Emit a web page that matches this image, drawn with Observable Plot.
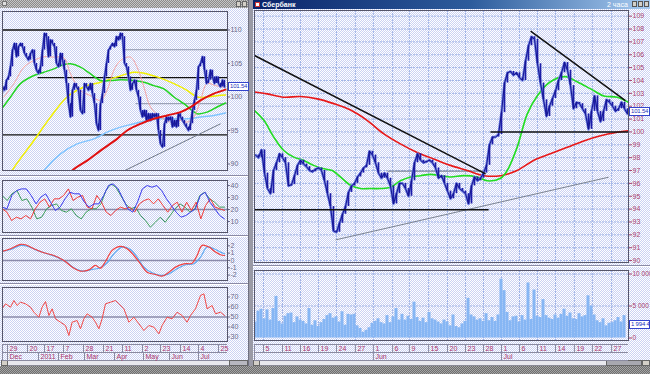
<!DOCTYPE html>
<html><head><meta charset="utf-8">
<script src="https://cdn.jsdelivr.net/npm/d3@7"></script>
<script src="https://cdn.jsdelivr.net/npm/@observablehq/plot@0.6"></script>
<style>
html,body{margin:0;padding:0;background:#888;}
#root{position:relative;width:650px;height:374px;overflow:hidden;font-family:"Liberation Sans",Arial,sans-serif;
background:repeating-conic-gradient(#6e6e6e 0 25%,#a4a4a4 0 50%) 0 0/2px 2px;}
.d{position:absolute;box-sizing:border-box;}
.dith{background:repeating-conic-gradient(#ffffff 0 25%,#cbd2f3 0 50%) 0 0/2px 2px;}
.lbl{position:absolute;box-sizing:border-box;background:#fff;border:1px solid #3344cc;color:#2233bb;font-size:6px;letter-spacing:-0.2px;line-height:7px;padding-left:1px;overflow:hidden;white-space:nowrap;}
</style></head><body><div id="root"></div>
<script>
// ================= DATA =================
// Left window (daily), bar index i
const leftClose = [100.5,101.5,101,102.5,103,104.5,107,108,106,107.5,
 108,107.5,106.5,106,105.5,106.5,107,105,104,103.5,
 104.5,107,109.5,109,106,108.5,108,107.5,105,104.5,
 106.5,105.5,104,102,99,97,101,102,101.5,101,
 98,97.5,102,101.5,101,102,100.5,99,96,95,
 99,100.5,103,105,107,107.5,108,107.5,109,108.5,
 109.5,109,105,104.5,103,101,102,102.5,101,100,
 98,97,98,96.5,97.5,96.5,97.5,97,97.5,95,
 93,92.5,96,97,96.5,97,95.5,96.5,95.5,97.5,
 97,96.5,96,95.5,95,96,98,99.5,101,104.5,
 105,106,104,102,102.5,104,103,102,103,102,
 101.5,102.5,101.5];
const leftPink = [[1.7,100.0],[6.7,102.0],[11.7,104.45],[16.7,105.45],[21.7,106.0],[26.7,105.95],[31.7,105.85],[35,103.46],[40,100.97],[45,100.2],[50,99.5],[53.3,101],[56.7,104],[60,105.45],[65,105.95],[68.3,104.45],[71.7,101.5],[75,98.5],[80,97],[85,96.25],[90,96.5],[93.3,96.25],[96.7,97],[100,99.5],[103.3,102],[107.5,101.7],[112.5,101.4]];
const leftGreen = [[0,98],[5,100],[10,102],[16.7,103.2],[21.7,103.7],[26.7,104.2],[31.7,104.85],[35,104.95],[40,104.45],[45,103.46],[50,102.46],[55,102.46],[60,102.56],[66.7,102.46],[71.7,102.2],[76.7,101.7],[81.7,101.2],[86.7,100],[91.7,99],[95.8,98],[98.3,97.5],[103.3,97.74],[108.3,98.5],[112.5,99.1]];
const leftYellow = [[4.5,88],[5.8,89],[16.7,93.5],[25,97],[33.3,100],[41.7,101.5],[50,102.2],[58.3,103],[66.7,103.7],[71.7,103.56],[78.3,103],[86.7,102],[93.3,101],[98.3,100],[103.3,100],[108.3,100.2],[112.5,100.3]];
const leftRed = [[34,88],[35.8,89],[43.3,90.5],[50,92],[58.3,93.75],[63.3,95],[70,96],[76.7,96.75],[83.3,97.25],[90,97.75],[95,98.5],[100,99.5],[106.7,100.5],[112.5,101.1]];
const leftBlue = [[19.5,88],[21.7,89],[30,91.5],[38.3,93],[46.7,93.75],[53.3,94.75],[60,95.5],[66.7,96],[73.3,96.5],[80,96.75],[86.7,96.75],[93.3,96.75],[100,97],[106.7,97.25],[112.5,97.6]];
const leftLevels = [{x1:1,x2:113.5,y:110},{x1:18.5,x2:113.5,y:102.9},{x1:1,x2:113.5,y:94.35}];
const leftThinLevels = [{x1:61,x2:113.5,y:107.05},{x1:67.5,x2:113.5,y:99.0}];
const leftTrend = [{x1:62,y1:89.0,x2:110,y2:96.0}];
const leftPriceTicks = [90,95,100,105,110];
const lastPrice = 101.54;

const osc1Blue = [22,20.6,31.7,35.8,37.2,37.2,31.7,24.7,30.3,33.1,26.1,19.2,22,28.9,34.4,33.1,33.1,26.1,22,24.7,24.7,31.7,40,41.4,37.2,28.9,20.6,17.8,26.1,37.2,40,38.6,40,35.8,28.9,23.3,17.8,13.6,15,17.8,20.6,31.7,34.4,26.1,20.6,15,12.2];
const osc1Red = [20.6,17.8,10.8,13.6,12.2,15,12.2,20.6,26.1,28.9,22,28.9,28.9,31.7,37.2,27.5,30.3,31.7,22,20.6,31.7,26.1,17.8,15,19.2,22,20.6,22,17.8,24.7,27.5,28.9,24.7,28.9,23.3,17.8,23.3,26.1,17.8,26.1,19.2,26.1,12.2,23.3,28.9,22,20.6,19.2];
const osc1Green = [31.7,27.5,33.1,35.8,27.5,28.9,22,12.2,13.6,20.6,23.3,24.7,19.2,17.8,20.6,15,12.2,17.8,20.6,20.6,24.7,35.8,41.4,38.6,31.7,24.7,20.6,22,15,10.8,5.3,9.4,13.6,9.4,15,20.6,24.7,22,17.8,20.6,31.7,34.4,28.9,26.1,22,22];
const osc1Ticks = [10,20,30,40];
const osc2Red = [[0.8,1.23],[5,1.6],[10,2.2],[12.5,2.15],[16.7,1.6],[21.7,1.05],[26.7,0.68],[31.7,0],[35.8,-0.9],[40,-1.46],[44.2,-1.28],[47.5,-0.68],[50,-1.05],[52.5,-0.14],[55.8,1.37],[60,1.92],[63.3,1.6],[66.7,0.68],[70,-0.46],[73.3,-1.6],[77.5,-1.92],[80.8,-2.15],[84.2,-1.6],[87.5,-0.91],[91.7,-0.46],[95.8,-0.37],[98.3,0.68],[100.8,2.06],[104.2,1.83],[107.5,1.14],[110,0.78],[112,0.68]];
const osc2Blue = [[0.8,1.23],[5,1.5],[10,2.06],[13.3,1.96],[18.3,1.37],[23.3,0.91],[28.3,0.46],[33.3,-0.32],[37.5,-1.14],[41.7,-1.46],[45.8,-1.23],[50,-1.0],[53.3,-0.32],[56.7,0.91],[60.8,1.83],[65,1.5],[68.3,0.46],[71.7,-0.91],[75.8,-1.69],[80,-2.05],[84.2,-1.83],[88.3,-1.14],[92.5,-0.59],[96.7,-0.46],[100,0.46],[103.3,1.83],[106.7,1.6],[110,1.14],[112,0.91]];
const osc2Ticks = [-2,-1,0,1,2];
const rsiX = [0.8,2.5,5,6.7,8.3,10,12.5,15,16.7,19.2,20.8,22.5,24.2,25.8,27.5,30,32.5,34.2,35.8,38.3,40,41.7,43.3,45.8,47.5,49.2,50.8,52.5,55,57.5,59.2,61.7,64.2,66.7,69.2,71.7,74.2,76.7,79.2,80.8,83.3,85.8,88.3,90.8,93.3,95,97.5,100,101.7,103.3,105.8,107.5,110,112];
const rsiV = [58.2,63.2,59.8,66.5,61.5,64.8,63.2,59.8,54.8,49.8,59.8,65.5,51.5,58.2,48.2,44.8,41.5,31.5,44.8,46.5,38.2,48.2,53.2,49.8,44.8,38.2,48.2,63.2,64.8,66.5,63.2,58.2,44.8,49.8,43.2,36.5,41.5,39.8,33.2,41.5,49.8,48.2,54.8,51.5,44.8,51.5,58.2,71.5,73.2,58.2,61.5,53.2,54.8,51.5];
const rsiTicks = [30,40,50,60,70];
const leftDays = ["29","20","17","7","28","21","11","2","23","14","4","25"];
const leftDayIdx = [3.5,13.5,22,31.5,41.5,51.5,61,71,80,90,99,109];
const leftMonths = ["Dec","2011","Feb","Mar","Apr","May","Jun","Jul"];
const leftMonthIdx = [3.5,19,29,42,57,71.5,84.5,99];

// Right window (2-hour bars), bar index k
const rightClose = [98.2,98.0,98.6,96.8,95.6,95.2,97.0,97.6,98.3,98.0,
 97.6,95.8,95.9,96.6,97.4,97.8,97.5,97.3,97.0,96.9,
 97.1,97.2,97.0,96.2,95.2,94.2,92.3,92.2,92.9,93.6,
 94.2,95.3,95.8,96.0,96.5,96.8,97.2,97.4,98.5,98.2,
 97.6,96.8,96.4,96.8,96.4,95.8,94.4,95.2,96.0,96.0,
 95.6,95.0,96.2,97.6,98.3,97.8,97.6,97.7,97.8,97.6,
 97.2,96.4,96.6,96.0,95.4,94.8,95.2,96.0,95.6,95.4,
 95.2,94.4,95.8,96.5,96.2,96.4,96.8,97.4,99.0,99.6,
 99.6,99.8,101.5,103.8,104.6,104.7,104.4,104.6,104.2,104.0,
 105.5,106.7,107.4,107.2,105.3,103.8,102.5,101.2,102.0,102.6,
 103.2,104.0,104.6,105.4,104.8,103.6,101.8,102.3,102.2,101.8,
 101.4,100.2,101.6,102.8,101.6,100.8,101.6,102.5,102.3,102.0,
 101.6,101.8,102.3,101.8,101.4];
const rightRedMA = [[-0.33,103.1],[3.9,102.96],[9.4,102.7],[15,102.75],[20.6,102.57],[26.1,102.2],[31.7,101.7],[37.2,100.9],[42.8,99.85],[48.3,99.07],[53.9,98.4],[59.4,97.9],[65,97.4],[70.6,97.0],[76.1,96.6],[81.7,96.6],[87.2,97.0],[92.8,97.8],[98.3,98.3],[103.9,98.8],[109.4,99.3],[115,99.7],[120.6,99.97],[124.3,100.1]];
const rightGreenMA = [[-0.33,101.66],[2.8,100.9],[6.1,99.6],[9.4,98.56],[12.8,98.04],[16.1,97.78],[19.4,97.4],[22.8,97.13],[25.6,97.0],[28.3,96.5],[31.7,95.85],[35,95.6],[38.3,95.6],[41.7,95.6],[45,95.7],[48.3,96.2],[51.7,96.5],[55,96.6],[58.3,96.7],[61.7,96.6],[65,96.5],[69.4,96.6],[73.9,96.5],[77.2,96.2],[81.7,96.4],[83.9,97.0],[87.2,98.8],[90.6,101.4],[93.9,102.8],[98.3,103.9],[103.3,104.3],[107.2,103.9],[111.7,103.35],[116.1,102.8],[120.6,102.7],[124.3,102.3]];
const rightTrendBlack = [{x1:-0.33,y1:105.94,x2:76.7,y2:96.74},{x1:91.7,y1:107.83,x2:123.3,y2:102.44}];
const rightLevels = [{x1:-0.33,x2:77.7,y:93.95},{x1:78.3,x2:124.33,y:100.0}];
const rightThin = [{x1:44,x2:76.7,y:96.95}];
const rightTrendGray = [{x1:26.7,y1:91.61,x2:117.7,y2:96.48}];
const rightPriceTicks = [90,91,92,93,94,95,96,97,98,99,100,101,102,103,104,105,106,107,108,109];
const volume = [2.5,4.2,4.5,3.0,4.4,2.8,4.6,6.5,2.6,2.2,
 3.4,3.8,3.9,2.4,3.3,2.8,2.6,2.2,4.6,2.0,
 2.7,1.8,2.4,2.9,3.5,3.8,3.1,3.3,2.5,4.1,
 2.0,3.7,3.6,3.7,1.9,1.5,0.9,1.2,1.6,2.3,
 2.6,3.0,2.4,2.2,3.5,2.4,3.3,4.6,2.8,3.7,
 2.8,3.4,2.9,5.6,3.2,2.6,3.1,2.4,4.0,3.0,
 2.8,2.5,2.2,2.8,2.5,1.9,3.6,1.8,1.6,2.2,
 2.6,6.2,3.6,3.3,2.8,3.0,2.6,3.8,2.7,3.2,
 2.6,3.6,9.2,7.4,4.0,2.7,3.3,3.4,2.5,3.5,
 2.8,8.6,2.9,7.5,3.4,3.2,6.0,3.5,3.1,2.9,
 3.6,3.1,3.7,4.5,3.4,3.9,3.0,2.9,3.8,3.3,
 3.5,6.6,5.0,3.6,2.7,2.4,3.0,1.9,2.3,2.4,
 2.7,3.2,2.5,3.5];
const volTicks = [0,5,10];
const volTickLabels = ["0","5 000 000","10 000 000"];
const lastVolume = "1 994 400";
const rightDays = ["5","11","16","19","24","27","1","6","9","15","20","23","28","1","6","11","14","19","22","27"];
const rightDayIdx = [2.67,9,15,21,27,33.3,39.3,45.7,51.3,57.7,64,70,76,82,88,94,100,106.3,112.3,118.7];
const rightMonths = ["Jun","Jul"];
const rightMonthIdx = [39.3,82];

// ================= DRAW =================
const root = document.getElementById("root");
const FONT = "Liberation Sans, Arial, sans-serif";
function div(cls, css, text){const e=document.createElement("div");e.className="d "+(cls||"");Object.assign(e.style,css);if(text!=null)e.textContent=text;root.appendChild(e);return e;}
function chart(o){
  const {box, color, fs, ...rest} = o;
  const svg = Plot.plot({
    width:650, height:374,
    marginLeft:box[0], marginRight:650-box[2], marginTop:box[1], marginBottom:374-box[3],
    style:{position:"absolute",left:"0px",top:"0px",background:"transparent",overflow:"visible",fontSize:(fs||7)+"px",fontFamily:FONT,color:color||"#666"},
    ...rest
  });
  root.appendChild(svg);
  return svg;
}
const P = d => d[0], V = d => d[1];
const GRID = "#9fb3e6";

// window chrome
div("dith",{left:"0px",top:"0px",width:"249px",height:"366px"});
div("",{left:"248px",top:"0px",width:"5px",height:"366px",background:"#9a9aa6",borderLeft:"1px solid #707080"});
div("dith",{left:"253px",top:"0px",width:"397px",height:"366px"});
div("",{left:"0px",top:"0px",width:"248px",height:"8px",background:"repeating-conic-gradient(#8a8a8a 0 25%,#c6c6c6 0 50%) 0 0/2px 2px"});
div("",{left:"2px",top:"1px",width:"5px",height:"5px",background:"#e0e0e0",border:"1px solid #777"});
div("",{left:"236px",top:"1px",width:"5px",height:"6px",background:"#d4d0c8",border:"1px solid #666"});
div("",{left:"242px",top:"1px",width:"5px",height:"6px",background:"#d4d0c8",border:"1px solid #666"});
div("",{left:"253px",top:"0px",width:"397px",height:"9px",background:"linear-gradient(90deg,#0a246a,#2d5c9c 55%,#a6caf0)"});
div("",{left:"255px",top:"2px",width:"5px",height:"5px",background:"#fff",border:"1px solid #c33"});
div("",{left:"262px",top:"0px",color:"#fff",fontSize:"7px",fontWeight:"bold",lineHeight:"9px",fontFamily:FONT},"Сбербанк");
div("",{left:"607px",top:"0px",color:"#fff",fontSize:"7px",lineHeight:"9px",fontFamily:FONT},"2 часа");
for (const x of [632,638,644]) div("",{left:x+"px",top:"1px",width:"5px",height:"6px",background:"#d4d0c8",border:"1px solid #555"});
// panel separators
for (const y of [175,235,283]) div("",{left:"0px",top:y+"px",width:"248px",height:"2px",borderTop:"1px solid #8a8aa6",borderBottom:"1px solid #fff"});
div("",{left:"253px",top:"265px",width:"397px",height:"2px",borderTop:"1px solid #8a8aa6",borderBottom:"1px solid #fff"});
// scrollbars
div("",{left:"1px",top:"360px",width:"247px",height:"6px",background:"#e8e8ee",border:"1px solid #8a8a96"});
div("",{left:"1px",top:"360px",width:"7px",height:"6px",background:"#d4d0c8",border:"1px solid #666"});
div("",{left:"229px",top:"360px",width:"19px",height:"6px",background:"#b8b8c0",border:"1px solid #666"});
div("",{left:"253px",top:"360px",width:"397px",height:"6px",background:"#e8e8ee",border:"1px solid #8a8a96"});
div("",{left:"253px",top:"360px",width:"7px",height:"6px",background:"#d4d0c8",border:"1px solid #666"});
div("",{left:"606px",top:"360px",width:"36px",height:"6px",background:"#a8a8b0",border:"1px solid #666"});
div("",{left:"642px",top:"360px",width:"8px",height:"6px",background:"#d4d0c8",border:"1px solid #666"});

// ---------- LEFT MAIN ----------
const lk = leftClose.map((v,i)=>({i, v, p: i ? leftClose[i-1] : v}));
const svgL = chart({box:[2,11,227,170], color:"#6c6c8c",
  x:{domain:[1,113.5], axis:null},
  y:{domain:[89.03,112.76], axis:"right", ticks:leftPriceTicks, tickSize:2, tickPadding:1, tickFormat:d=>String(d), label:null},
  marks:[
    Plot.link(leftLevels,{x1:"x1",x2:"x2",y1:"y",y2:"y",stroke:"#111",strokeWidth:1.3,clip:true}),
    Plot.link(leftThinLevels,{x1:"x1",x2:"x2",y1:"y",y2:"y",stroke:"#8a92a8",strokeWidth:1,clip:true}),
    Plot.link(leftTrend,{x1:"x1",y1:"y1",x2:"x2",y2:"y2",stroke:"#707888",strokeWidth:1,clip:true}),
    Plot.line(leftBlue,{x:P,y:V,stroke:"#80c4ff",strokeWidth:1.5,curve:"catmull-rom",clip:true}),
    Plot.line(leftYellow,{x:P,y:V,stroke:"#f2f000",strokeWidth:1.5,curve:"catmull-rom",clip:true}),
    Plot.line(leftGreen,{x:P,y:V,stroke:"#22d422",strokeWidth:1.5,curve:"catmull-rom",clip:true}),
    Plot.line(leftPink,{x:P,y:V,stroke:"#f4a4a4",strokeWidth:1,curve:"catmull-rom",clip:true}),
    Plot.line(lk,{x:"i",y:"v",stroke:"#7080e6",strokeWidth:2.4,clip:true}),
    Plot.ruleX(lk,{x:"i",y1:"p",y2:"v",stroke:"#1a1aa8",strokeWidth:1.5,clip:true}),
    Plot.line(lk,{x:"i",y:"v",stroke:"#12128a",strokeWidth:0.9,clip:true}),
    Plot.line(leftRed,{x:P,y:V,stroke:"#e01010",strokeWidth:2,curve:"catmull-rom",clip:true}),
    Plot.frame({stroke:"#55556a"})
  ]});

// ---------- LEFT OSC 1 ----------
const even = (arr) => arr.map((v,j)=>({x:0.83 + j*(112-0.83)/(arr.length-1), v}));
chart({box:[2,180,227,232], color:"#6c6c8c",
  x:{domain:[1,113.5], axis:null},
  y:{domain:[0.83,44.2], axis:"right", ticks:osc1Ticks, tickSize:2, tickPadding:1, tickFormat:d=>String(d), label:null},
  marks:[
    Plot.ruleY([20],{stroke:"#8a8aaa",strokeWidth:1.5}),
    Plot.line(even(osc1Green),{x:"x",y:"v",stroke:"#3a9a5a",strokeWidth:1,clip:true}),
    Plot.line(even(osc1Red),{x:"x",y:"v",stroke:"#ee3a3a",strokeWidth:1,clip:true}),
    Plot.line(even(osc1Blue),{x:"x",y:"v",stroke:"#3a3aee",strokeWidth:1,clip:true}),
    Plot.frame({stroke:"#55556a"})
  ]});

// ---------- LEFT OSC 2 ----------
chart({box:[2,238,227,280], color:"#6c6c8c",
  x:{domain:[1,113.5], axis:null},
  y:{domain:[-2.74,3.0], axis:"right", ticks:osc2Ticks, tickSize:2, tickPadding:1, tickFormat:d=>String(d), label:null},
  marks:[
    Plot.ruleY([0],{stroke:"#8a8aaa",strokeWidth:1.5}),
    Plot.line(osc2Blue,{x:P,y:V,stroke:"#60aaf2",strokeWidth:1.2,curve:"catmull-rom",clip:true}),
    Plot.line(osc2Red,{x:P,y:V,stroke:"#f04040",strokeWidth:1.2,curve:"catmull-rom",clip:true}),
    Plot.frame({stroke:"#55556a"})
  ]});

// ---------- LEFT RSI ----------
chart({box:[2,287,227,341], color:"#6c6c8c",
  x:{domain:[1,113.5], axis:null},
  y:{domain:[25.5,79.5], axis:"right", ticks:rsiTicks, tickSize:2, tickPadding:1, tickFormat:d=>String(d), label:null},
  marks:[
    Plot.ruleY([50],{stroke:"#8a8aaa",strokeWidth:1.5}),
    Plot.line(rsiX.map((x,j)=>({x, v:rsiV[j]})),{x:"x",y:"v",stroke:"#f04848",strokeWidth:1,clip:true}),
    Plot.frame({stroke:"#55556a"})
  ]});

// ---------- LEFT DATE ROWS ----------
const DATEC = "#a8346a";
chart({box:[2,344,227,360], color:DATEC,
  x:{domain:[1,113.5], axis:null},
  y:{domain:[0,2], axis:null},
  marks:[
    Plot.ruleY([0,1,2],{stroke:"#8a8aa0"}),
    Plot.ruleX(leftDayIdx,{y1:1,y2:2,stroke:"#8a8aa0"}),
    Plot.ruleX(leftMonthIdx,{y1:0,y2:1,stroke:"#8a8aa0"}),
    Plot.text(leftDays.map((t,j)=>({t,x:leftDayIdx[j]})),{x:"x",y:()=>1.5,text:"t",textAnchor:"start",dx:2,fill:DATEC}),
    Plot.text(leftMonths.map((t,j)=>({t,x:leftMonthIdx[j]})),{x:"x",y:()=>0.5,text:"t",textAnchor:"start",dx:2,fill:DATEC}),
    Plot.ruleX([1],{y1:0,y2:2,stroke:"#8a8aa0"})
  ]});

// ---------- RIGHT MAIN ----------
const rk = rightClose.map((v,k)=>({k, v, p: k ? rightClose[k-1] : v}));
const svgR = chart({box:[254,10,628,262], color:"#a8406e",
  x:{domain:[-0.33,124.33], axis:null},
  y:{domain:[89.85,109.44], axis:"right", ticks:rightPriceTicks, tickSize:3, tickPadding:1, tickFormat:d=>String(d), label:null},
  marks:[
    Plot.ruleY(rightPriceTicks,{stroke:GRID,strokeDasharray:"2,1"}),
    Plot.ruleX(rightDayIdx,{stroke:GRID,strokeDasharray:"2,1"}),
    Plot.link(rightThin,{x1:"x1",x2:"x2",y1:"y",y2:"y",stroke:"#707888",strokeWidth:1,clip:true}),
    Plot.link(rightTrendGray,{x1:"x1",y1:"y1",x2:"x2",y2:"y2",stroke:"#7a8290",strokeWidth:1,clip:true}),
    Plot.line(rightRedMA,{x:P,y:V,stroke:"#e81818",strokeWidth:1.6,curve:"catmull-rom",clip:true}),
    Plot.line(rightGreenMA,{x:P,y:V,stroke:"#22dd22",strokeWidth:1.6,curve:"catmull-rom",clip:true}),
    Plot.line(rk,{x:"k",y:"v",stroke:"#7080e6",strokeWidth:2.6,clip:true}),
    Plot.ruleX(rk,{x:"k",y1:"p",y2:"v",stroke:"#1c1ca8",strokeWidth:1.7,clip:true}),
    Plot.line(rk,{x:"k",y:"v",stroke:"#14148c",strokeWidth:1,clip:true}),
    Plot.link(rightLevels,{x1:"x1",x2:"x2",y1:"y",y2:"y",stroke:"#111",strokeWidth:1.4,clip:true}),
    Plot.link(rightTrendBlack,{x1:"x1",y1:"y1",x2:"x2",y2:"y2",stroke:"#111",strokeWidth:1.5,clip:true}),
    Plot.frame({stroke:"#55556a"})
  ]});

// ---------- RIGHT VOLUME ----------
const vk = volume.map((v,k)=>({k,v}));
const svgV = chart({box:[254,270,628,340], color:"#a8406e", fs:6.5,
  x:{domain:[-0.33,124.33], axis:null},
  y:{domain:[-0.39,10.55], axis:"right", ticks:volTicks, tickSize:3, tickPadding:1, tickFormat:d=>volTickLabels[volTicks.indexOf(d)], label:null},
  marks:[
    Plot.ruleY([5,10],{stroke:GRID,strokeDasharray:"2,1"}),
    Plot.ruleX(rightDayIdx,{stroke:GRID,strokeDasharray:"2,1"}),
    Plot.rect(vk,{x1:d=>d.k-0.5,x2:d=>d.k+0.5,y1:()=>0,y2:"v",fill:"#86b6f4",clip:true}),
    Plot.frame({stroke:"#55556a"})
  ]});

// ---------- RIGHT DATE ROWS ----------
chart({box:[254,344,628,360], color:DATEC,
  x:{domain:[-0.33,124.33], axis:null},
  y:{domain:[0,2], axis:null},
  marks:[
    Plot.ruleY([0,1,2],{stroke:"#8a8aa0"}),
    Plot.ruleX(rightDayIdx,{y1:1,y2:2,stroke:"#8a8aa0"}),
    Plot.ruleX(rightMonthIdx,{y1:0,y2:1,stroke:"#8a8aa0"}),
    Plot.text(rightDays.map((t,j)=>({t,x:rightDayIdx[j]})),{x:"x",y:()=>1.5,text:"t",textAnchor:"start",dx:2,fill:DATEC}),
    Plot.text(rightMonths.map((t,j)=>({t,x:rightMonthIdx[j]})),{x:"x",y:()=>0.5,text:"t",textAnchor:"start",dx:2,fill:DATEC}),
    Plot.ruleX([-0.33],{y1:0,y2:2,stroke:"#8a8aa0"})
  ]});

// ---------- value boxes ----------
const yL = svgL.scale("y").apply(lastPrice);
div("lbl",{left:"228px",top:(yL-4.5)+"px",width:"21px",height:"9px"},lastPrice.toFixed(2));
const yR = svgR.scale("y").apply(lastPrice);
div("lbl",{left:"629px",top:(yR-4.5)+"px",width:"21px",height:"9px"},lastPrice.toFixed(2));
const yV = svgV.scale("y").apply(1.9944);
div("lbl",{left:"629px",top:(yV-4.5)+"px",width:"21px",height:"9px"},lastVolume);
</script></body></html>
